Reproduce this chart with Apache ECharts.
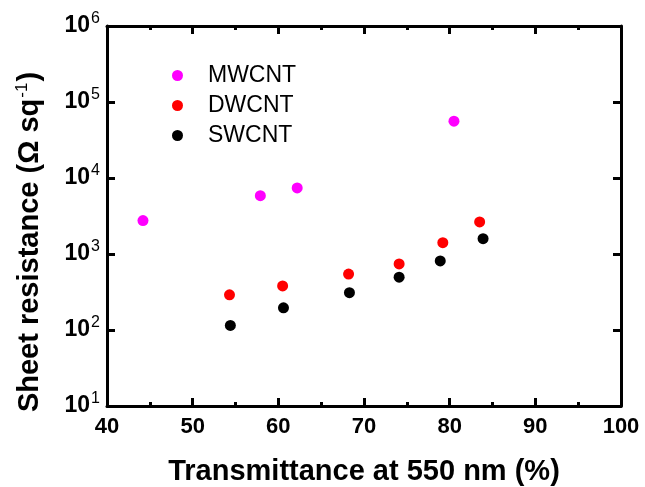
<!DOCTYPE html>
<html>
<head>
<meta charset="utf-8">
<script src="https://cdn.jsdelivr.net/npm/echarts@6/dist/echarts.min.js"></script>
<style>
  html, body { margin: 0; padding: 0; background: #fff; }
  #chart { width: 645px; height: 487px; }
</style>
</head>
<body>
<div id="chart"></div>
<script>
// Sheet resistance vs. optical transmittance for carbon nanotube films
const seriesNames = ['MWCNT', 'DWCNT', 'SWCNT'];
const seriesColors = ['#ff00ff', '#ff0000', '#000000'];

const mwcntT = [44.2, 57.9, 62.2, 80.5];
const mwcntR = [2750, 5850, 7400, 56000];

const dwcntT = [54.3, 60.5, 68.2, 74.1, 79.2, 83.5];
const dwcntR = [290, 380, 545, 740, 1410, 2640];

const swcntT = [54.4, 60.6, 68.3, 74.1, 78.9, 83.9];
const swcntR = [115, 196, 310, 495, 810, 1590];

const xTicks = [40, 50, 60, 70, 80, 90, 100];
const yDecades = [10, 100, 1000, 10000, 100000, 1000000];

const FONT = '"Liberation Sans", Arial, sans-serif';

const pairs = (xs, ys) => xs.map((x, i) => [x, ys[i]]);
const seriesData = [pairs(mwcntT, mwcntR), pairs(dwcntT, dwcntR), pairs(swcntT, swcntR)];

function xAxisDef(position, showLabels) {
  return {
    type: 'value',
    position: position,
    min: xTicks[0],
    max: xTicks[xTicks.length - 1],
    interval: 10,
    axisLine: { show: true, onZero: false, lineStyle: { color: '#000', width: 3 } },
    axisTick: { show: true, inside: true, length: 8, lineStyle: { width: 3, color: '#000' } },
    minorTick: { show: true, splitNumber: 2, length: 4, lineStyle: { width: 3, color: '#000' } },
    splitLine: { show: false },
    axisLabel: showLabels ? {
      show: true, margin: 10, color: '#000',
      fontFamily: FONT, fontWeight: 'bold', fontSize: 22
    } : { show: false }
  };
}

function yAxisDef(position, showLabels) {
  return {
    type: 'log',
    logBase: 10,
    position: position,
    min: yDecades[0],
    max: yDecades[yDecades.length - 1],
    axisLine: { show: true, onZero: false, lineStyle: { color: '#000', width: 3 } },
    axisTick: { show: true, inside: true, length: 8, lineStyle: { width: 3, color: '#000' } },
    minorTick: { show: false },
    splitLine: { show: false },
    axisLabel: showLabels ? {
      show: true, margin: 7, color: '#000',
      formatter: v => '{b|10}{s|' + Math.round(Math.log10(v)) + '}',
      rich: {
        b: { fontFamily: FONT, fontWeight: 'bold', fontSize: 23, color: '#000' },
        s: { fontFamily: FONT, fontSize: 16, color: '#000', padding: [0, 0, 14, 1] }
      }
    } : { show: false }
  };
}

const chart = echarts.init(document.getElementById('chart'), null, { renderer: 'canvas' });

chart.setOption({
  backgroundColor: '#fff',
  animation: false,
  grid: { left: 107, right: 24, top: 26, bottom: 81 },
  xAxis: [xAxisDef('bottom', true), xAxisDef('top', false)],
  yAxis: [yAxisDef('left', true), yAxisDef('right', false)],
  legend: {
    orient: 'vertical',
    left: 167,
    top: 59,
    itemGap: 7,
    itemWidth: 11,
    itemHeight: 11,
    icon: 'circle',
    data: seriesNames,
    textStyle: { fontFamily: FONT, fontSize: 23, color: '#000', padding: [0, 0, 0, 20] }
  },
  graphic: [
    {
      type: 'text',
      x: 364, y: 472,
      style: {
        text: 'Transmittance at 550 nm (%)',
        font: 'bold 29px ' + FONT,
        fill: '#000',
        align: 'center',
        verticalAlign: 'middle'
      }
    },
    {
      type: 'text',
      x: 30, y: 242,
      rotation: Math.PI / 2,
      style: {
        text: '{a|Sheet resistance (Ω sq}{s|-1}{a|)}',
        align: 'center',
        verticalAlign: 'middle',
        rich: {
          a: { font: 'bold 29px ' + FONT, fill: '#000' },
          s: { font: '17px ' + FONT, fill: '#000', padding: [0, 1, 16, 1] }
        }
      }
    }
  ],
  series: seriesNames.map((name, i) => ({
    name: name,
    type: 'scatter',
    xAxisIndex: 0,
    yAxisIndex: 0,
    symbol: 'circle',
    symbolSize: 11,
    itemStyle: { color: seriesColors[i], opacity: 1 },
    data: seriesData[i]
  }))
});
</script>
</body>
</html>
